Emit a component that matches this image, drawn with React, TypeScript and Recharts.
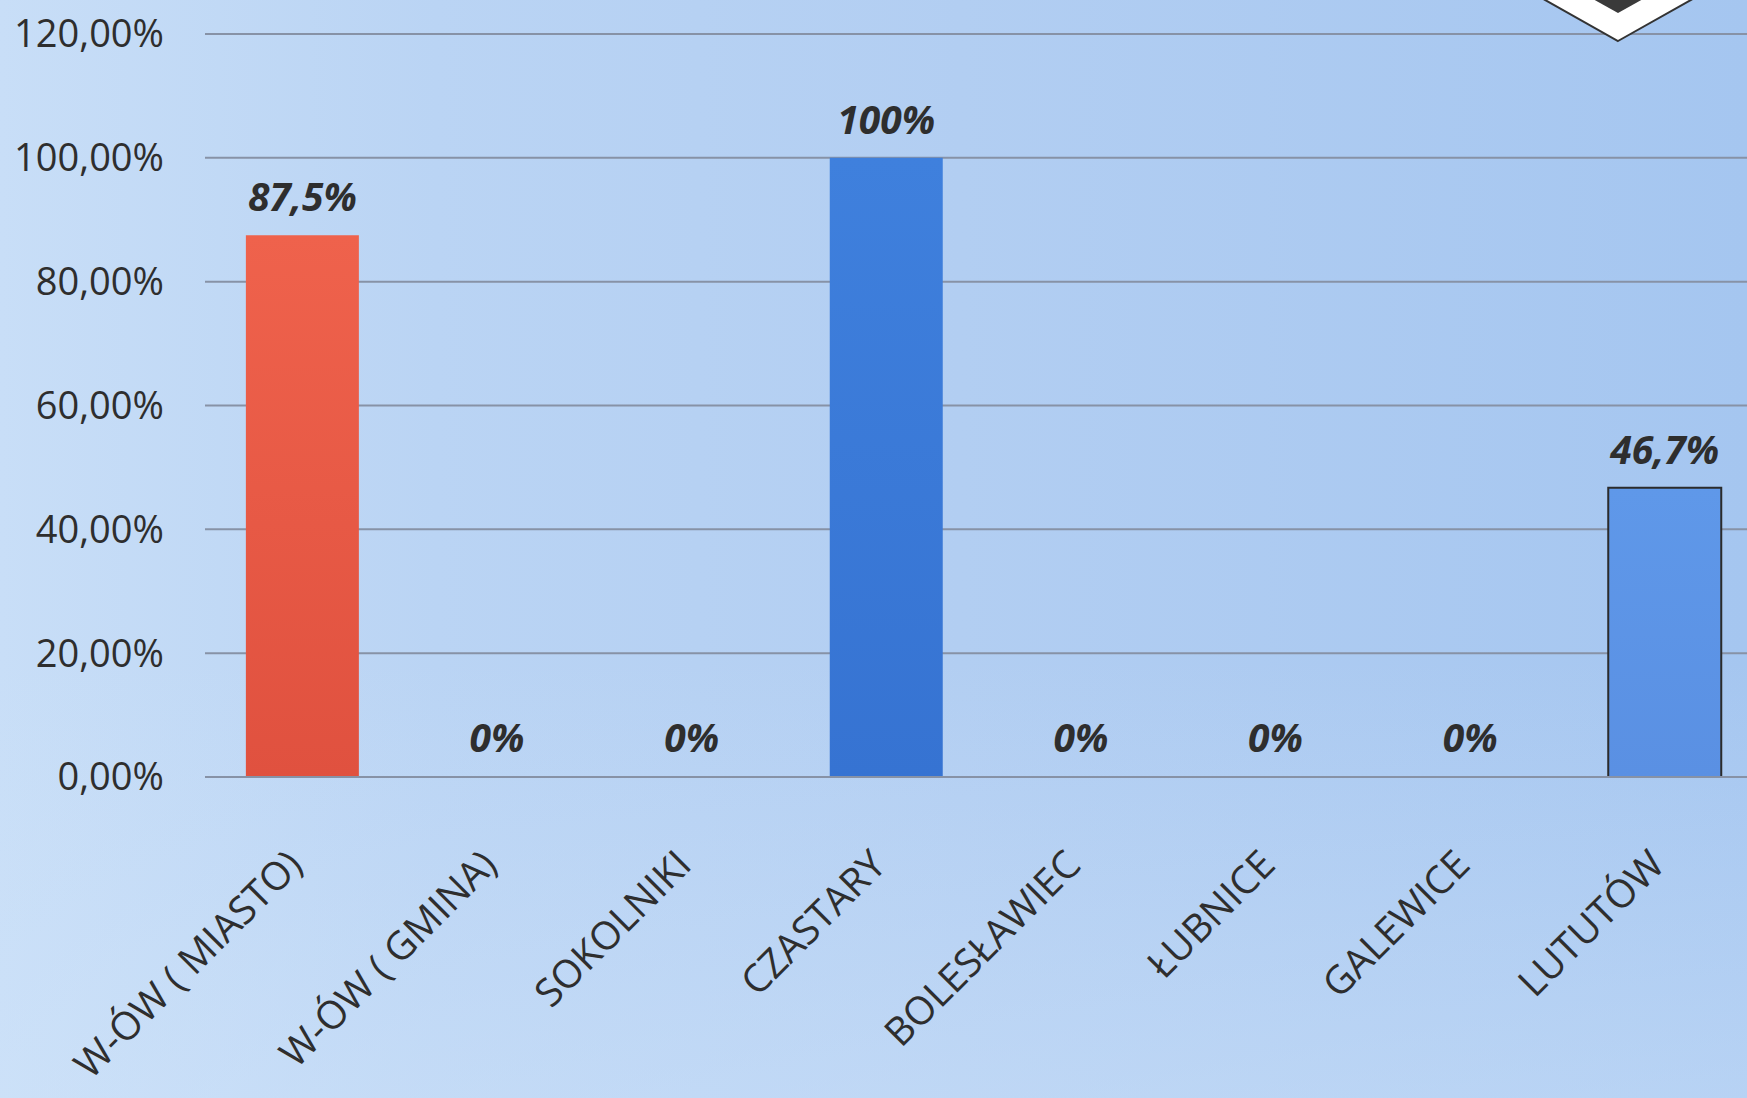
import React from "react";
import {
  BarChart,
  Bar,
  XAxis,
  YAxis,
  CartesianGrid,
  Cell,
  LabelList,
} from "recharts";

const categories = [
  "W-ÓW ( MIASTO)",
  "W-ÓW ( GMINA)",
  "SOKOLNIKI",
  "CZASTARY",
  "BOLESŁAWIEC",
  "ŁUBNICE",
  "GALEWICE",
  "LUTUTÓW",
];
const values = [87.5, 0, 0, 100, 0, 0, 0, 46.7];
const yTicks = [0, 20, 40, 60, 80, 100, 120];
const barFills = [
  "url(#redBar)",
  "transparent",
  "transparent",
  "url(#blueBar)",
  "transparent",
  "transparent",
  "transparent",
  "url(#lightBlueBar)",
];

const FONT = "'Open Sans', 'Noto Sans', sans-serif";

const chartData = categories.map((name, i) => ({ name, value: values[i] }));

function AngledTick(props: any) {
  const { x, y, payload } = props;
  const ty = y + 82;
  return (
    <text
      x={x + 2}
      y={ty}
      transform={`rotate(-45, ${x + 2}, ${ty})`}
      textAnchor="end"
      fill="#2e2e2e"
      fontSize={39}
      fontFamily={FONT}
    >
      {payload.value}
    </text>
  );
}

const pct = (v: number) => `${String(v).replace(".", ",")}%`;

export default function App() {
  return (
    <div
      style={{
        position: "fixed",
        left: 0,
        top: 0,
        width: 1747,
        height: 1098,
        overflow: "hidden",
        background:
          "linear-gradient(90deg, #c8def7 0%, #bad4f4 25%, #b2cef2 55%, #a5c6f0 100%)",
      }}
    >
      <div
        style={{
          position: "absolute",
          inset: 0,
          background:
            "linear-gradient(180deg, rgba(255,255,255,0) 60%, rgba(210,229,250,0.4) 100%)",
        }}
      />
      <div style={{ position: "absolute", left: 0, top: 0 }}>
        <BarChart
          width={1780}
          height={1098}
          data={chartData}
          margin={{ top: 34, right: 18, left: 0, bottom: 0 }}
          barCategoryGap="21%"
        >
          <defs>
            <linearGradient id="redBar" x1="0" y1="0" x2="0" y2="1">
              <stop offset="0%" stopColor="#ef624c" />
              <stop offset="100%" stopColor="#e0513f" />
            </linearGradient>
            <linearGradient id="blueBar" x1="0" y1="0" x2="0" y2="1">
              <stop offset="0%" stopColor="#3f80dd" />
              <stop offset="100%" stopColor="#3673d2" />
            </linearGradient>
            <linearGradient id="lightBlueBar" x1="0" y1="0" x2="0" y2="1">
              <stop offset="0%" stopColor="#5f98e9" />
              <stop offset="100%" stopColor="#5a90e3" />
            </linearGradient>
          </defs>
          <CartesianGrid vertical={false} stroke="#8792a6" strokeWidth={2} />
          <XAxis
            dataKey="name"
            interval={0}
            height={321}
            tickLine={false}
            axisLine={{ stroke: "#8792a6", strokeWidth: 2 }}
            tick={<AngledTick />}
          />
          <YAxis
            domain={[0, 120]}
            ticks={yTicks}
            width={205}
            axisLine={false}
            tickLine={false}
            tickMargin={35}
            tickFormatter={(v: number) => `${v.toFixed(2).replace(".", ",")}%`}
            tick={{ fontSize: 38, fill: "#2e2e2e", fontFamily: FONT }}
          />
          <Bar dataKey="value" minPointSize={1} isAnimationActive={false}>
            {chartData.map((d, i) => (
              <Cell
                key={d.name}
                fill={barFills[i]}
                stroke={i === 7 ? "#2b2b2b" : "none"}
                strokeWidth={i === 7 ? 2 : 0}
              />
            ))}
            <LabelList
              dataKey="value"
              position="top"
              offset={24}
              formatter={(v: any) => pct(Number(v))}
              fill="#2e2e2e"
              fontSize={39}
              fontWeight={700}
              fontStyle="italic"
              fontFamily={FONT}
            />
          </Bar>
        </BarChart>
      </div>
      {/* logo corner peeking in at the top right */}
      <svg
        width={1747}
        height={1098}
        style={{ position: "absolute", left: 0, top: 0, pointerEvents: "none" }}
      >
        <polygon
          points="1618,41 1762,-40 1618,-121 1474,-40"
          fill="#ffffff"
          stroke="#333333"
          strokeWidth={2}
        />
        <polygon points="1618,13 1713,-40 1618,-93 1523,-40" fill="#3a3a3a" />
      </svg>
    </div>
  );
}
